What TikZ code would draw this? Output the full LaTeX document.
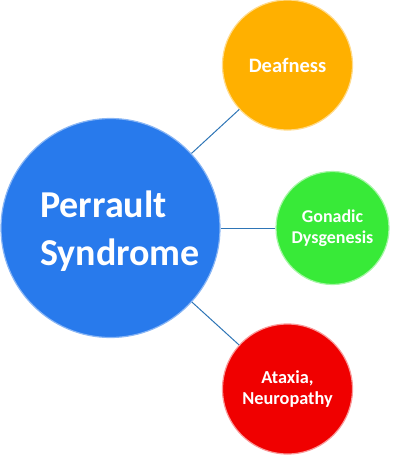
\documentclass[tikz,border=0pt]{standalone}
\usepackage{fontspec}
\setmainfont{Carlito}
\usepackage{xcolor}
\definecolor{synblue}{RGB}{40,122,236}
\definecolor{deafgold}{RGB}{255,176,0}
\definecolor{gonadgreen}{RGB}{56,234,56}
\definecolor{ataxred}{RGB}{240,0,0}
\definecolor{linkblue}{RGB}{46,117,182}
\begin{document}
\begin{tikzpicture}[x=1pt,y=-1pt,
    ball/.style={circle, inner sep=0pt, text=white, font=\bfseries, align=center, line width=1.2pt},
    link/.style={draw=linkblue, line width=1pt}]
        \useasboundingbox (0,0) rectangle (400,458);
        \node[ball, fill=synblue, draw=synblue!55!white, minimum size=219pt](syn) at (110.5,228) {};
        \node[font=\bfseries\fontsize{38}{48}\selectfont, text=white, align=left](syntext) at (120,231) {Perrault\\Syndrome};
        \node[ball, fill=deafgold, draw=deafgold!45!white, minimum size=130pt,
              font=\bfseries\fontsize{20.5}{24}\selectfont](deaf) at (287.5,65) {Deafness};
        \node[ball, fill=gonadgreen, draw=gonadgreen!45!white, minimum size=113pt,
              font=\bfseries\fontsize{18}{21}\selectfont](gonad) at (332.5,228) {Gonadic\\Dysgenesis};
        \node[ball, fill=ataxred, draw=ataxred!40!white, minimum size=130pt,
              font=\bfseries\fontsize{18.3}{20.5}\selectfont](atax) at (287.5,389) {Ataxia,\\Neuropathy};
        \draw[link](syn)--(deaf);
        \draw[link](syn)--(gonad);
        \draw[link](syn)--(atax);
\end{tikzpicture}
\end{document}
